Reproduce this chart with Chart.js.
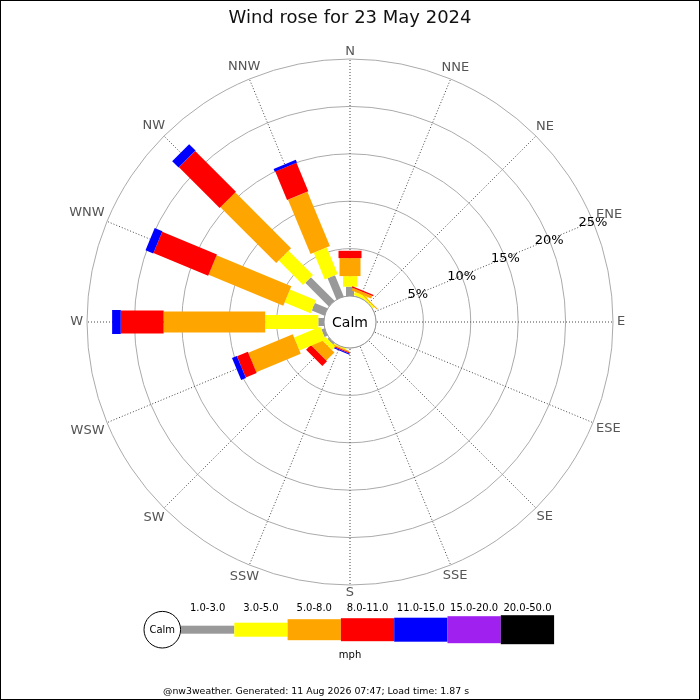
<!DOCTYPE html>
<html>
<head>
<meta charset="utf-8">
<title>Wind rose for 23 May 2024</title>
<script src="https://cdn.jsdelivr.net/npm/chart.js@4.4.1/dist/chart.umd.min.js"></script>
<style>
  html, body { margin: 0; padding: 0; background: #fff; }
  #wrap { width: 700px; height: 700px; position: relative; }
</style>
</head>
<body>
<div id="wrap"><canvas id="rose"></canvas></div>
<script>
const directions = ['N', 'NNE', 'NE', 'ENE', 'E', 'ESE', 'SE', 'SSE', 'S', 'SSW', 'SW', 'WSW', 'W', 'WNW', 'NW', 'NNW'];
const speedBins = ['1.0-3.0', '3.0-5.0', '5.0-8.0', '8.0-11.0', '11.0-15.0', '15.0-20.0', '20.0-50.0'];

// % of the day from each direction, one array per speed band (mph)
const speed1to3   = [0.98, 0.05, 0, 0, 0, 0, 0, 0, 0, 0,    0.2, 0.35, 0.6,  1.45, 3.52, 2.43];
const speed3to5   = [1.12, 0.35, 0.2, 0, 0, 0, 0, 0, 0, 0.12, 0.5, 2.99, 5.61, 2.97, 3.64, 3.04];
const speed5to8   = [1.9,  0.3, 0.1, 0, 0, 0, 0, 0, 0, 0.12, 1.2, 5.08, 10.71, 8.53, 8.33, 6.21];
const speed8to11  = [0.77, 0.15, 0, 0, 0, 0, 0, 0, 0, 0.12, 0.7, 1.24, 4.52, 6.25, 6.07, 3.26];
const speed11to15 = [0, 0, 0, 0, 0, 0, 0, 0, 0, 0.12, 0, 0.55, 0.91, 0.88, 0.96, 0.32];
const speed15to20 = [0, 0, 0, 0, 0, 0, 0, 0, 0, 0, 0, 0, 0, 0, 0, 0];
const speed20to50 = [0, 0, 0, 0, 0, 0, 0, 0, 0, 0, 0, 0, 0, 0, 0, 0];

const tickValues = [5, 10, 15, 20, 25];

const footerText = '@nw3weather. Generated: 11 Aug 2026 07:47; Load time: 1.87 s';

// styling
const binColors = ['#999999', '#ffff00', '#ffa500', '#ff0000', '#0000ff', '#a020f0', '#000000'];
const barWidths = [8, 14, 21, 23, 24, 27, 29];
const tickLabelSpoke = 3; // ENE

const series = [speed1to3, speed3to5, speed5to8, speed8to11, speed11to15, speed15to20, speed20to50];

const roseDraw = {
  id: 'roseDraw',
  afterDatasetsDraw(chart) {
    const sc = chart.scales.r;
    const ctx = chart.ctx;

    // stacked bars, one rectangle per speed band
    directions.forEach((d, i) => {
      let total = 0;
      const angle = sc.getIndexAngle(i) - Math.PI / 2;
      chart.data.datasets.forEach((ds, k) => {
        const v = ds.data[i];
        if (!v || !chart.isDatasetVisible(k)) return;
        const r0 = sc.getDistanceFromCenterForValue(total);
        total += v;
        const r1 = sc.getDistanceFromCenterForValue(total);
        ctx.save();
        ctx.translate(sc.xCenter, sc.yCenter);
        ctx.rotate(angle);
        ctx.fillStyle = ds.barColor;
        ctx.fillRect(r0, -ds.barWidth / 2, r1 - r0, ds.barWidth);
        ctx.restore();
      });
    });

    // calm circle
    const rc = sc.getDistanceFromCenterForValue(0);
    ctx.save();
    ctx.beginPath();
    ctx.arc(sc.xCenter, sc.yCenter, rc, 0, Math.PI * 2);
    ctx.fillStyle = '#fff';
    ctx.fill();
    ctx.strokeStyle = '#999';
    ctx.lineWidth = 1;
    ctx.stroke();
    ctx.fillStyle = '#000';
    ctx.font = '14px "DejaVu Sans"';
    ctx.textAlign = 'center';
    ctx.textBaseline = 'middle';
    ctx.fillText('Calm', sc.xCenter, sc.yCenter + 1);

    // percentage labels along the ENE spoke
    ctx.font = '13px "DejaVu Sans"';
    tickValues.forEach(v => {
      const p = sc.getPointPosition(tickLabelSpoke, sc.getDistanceFromCenterForValue(v));
      ctx.fillText(v + '%', p.x, p.y + 1);
    });

    // compass labels
    ctx.fillStyle = '#555';
    directions.forEach((d, i) => {
      const a = sc.getIndexAngle(i);
      const w = ctx.measureText(d).width;
      const dist = sc.drawingArea + 4 + (w / 2) * Math.abs(Math.sin(a)) + 3.5 * Math.abs(Math.cos(a));
      const p = sc.getPointPosition(i, dist);
      ctx.fillText(d, p.x, p.y);
    });
    ctx.restore();
  },
  afterDraw(chart) {
    const ctx = chart.ctx;
    ctx.save();
    // speed legend
    const cx = 162.3, cy = 629.7, x0 = 181, seg = 53.3;
    ctx.beginPath();
    ctx.arc(cx, cy, 18.3, 0, Math.PI * 2);
    ctx.fillStyle = '#fff';
    ctx.fill();
    ctx.strokeStyle = '#000';
    ctx.lineWidth = 1;
    ctx.stroke();
    ctx.fillStyle = '#000';
    ctx.font = '10px "DejaVu Sans"';
    ctx.textAlign = 'center';
    ctx.textBaseline = 'middle';
    ctx.fillText('Calm', cx, cy + 1);
    speedBins.forEach((lab, k) => {
      const x = x0 + seg * k;
      const h = barWidths[k];
      ctx.fillStyle = binColors[k];
      ctx.fillRect(x, cy - h / 2, seg, h);
      ctx.fillStyle = '#000';
      ctx.fillText(lab, x + seg / 2, 608);
    });
    ctx.fillText('mph', 350, 655);
    // footer
    ctx.font = '9.4px "DejaVu Sans"';
    ctx.textAlign = 'left';
    ctx.fillText(footerText, 163, 692);
    // frame
    ctx.strokeStyle = '#000';
    ctx.strokeRect(0.5, 0.5, 699, 699);
    ctx.restore();
  }
};

new Chart(document.getElementById('rose').getContext('2d'), {
  type: 'radar',
  data: {
    labels: directions,
    datasets: series.map((s, k) => ({
      label: speedBins[k] + ' mph',
      data: s,
      barColor: binColors[k],
      barWidth: barWidths[k],
      showLine: false,
      fill: false,
      pointRadius: 0,
      pointHoverRadius: 0
    }))
  },
  options: {
    responsive: true,
    maintainAspectRatio: false,
    animation: false,
    layout: { padding: { left: 87, right: 87, top: 0, bottom: 115 } },
    plugins: {
      legend: { display: false },
      tooltip: { enabled: false },
      title: {
        display: true,
        text: 'Wind rose for 23 May 2024',
        color: '#111',
        font: { family: 'DejaVu Sans', size: 18, weight: 'normal' },
        padding: { top: 8, bottom: 29.4 }
      }
    },
    scales: {
      r: {
        min: -2.74,
        max: 25,
        startAngle: 0,
        afterBuildTicks: scale => {
          scale.ticks = [0].concat(tickValues).map(v => ({ value: v }));
        },
        ticks: { display: false },
        pointLabels: { display: false },
        grid: { circular: true, color: '#aaa', lineWidth: 1 },
        angleLines: { color: '#444', lineWidth: 1, borderDash: [1, 2] }
      }
    }
  },
  plugins: [roseDraw]
});
</script>
</body>
</html>
